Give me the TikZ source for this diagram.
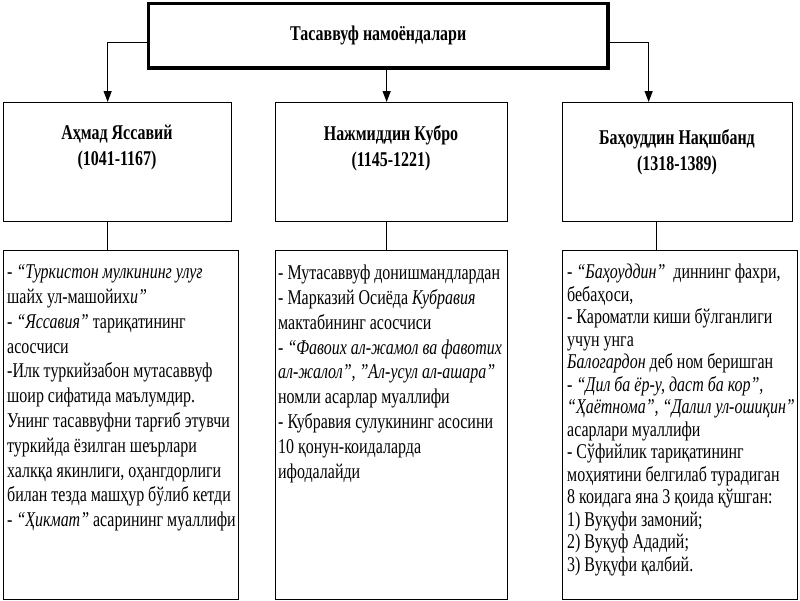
\documentclass[tikz,border=0pt]{standalone}
\usepackage{fontspec}
\setmainfont{Liberation Serif}[FakeStretch=0.76]
\usetikzlibrary{arrows.meta}
\begin{document}
\begin{tikzpicture}[x=1pt,y=-1pt,
  topbox/.style={draw, line width=3.5pt, minimum width=459.5pt, minimum height=64.5pt, anchor=north west, inner sep=0,
    font=\fontsize{21}{24}\selectfont\bfseries},
  midbox/.style={draw, line width=1.3pt, anchor=north west, inner sep=0},
  ttl/.style={font=\fontsize{21}{26}\selectfont\bfseries, align=center, inner sep=0},
  body/.style={font=\fontsize{21}{24.8}\selectfont, align=left, anchor=north west, inner sep=0},
  bodyr/.style={body, font=\fontsize{21}{22.5}\selectfont},
  conn/.style={line width=1.2pt},
  arr/.style={conn, -{Triangle[width=8pt,length=11pt]}}
]
\useasboundingbox (0,0) rectangle (800,600);
% top box
\node[topbox] (top) at (146.75,1.75) {Тасаввуф намоёндалари};
% level-2 boxes
\node[midbox, minimum width=228pt, minimum height=119pt] (m1) at (3,102) {};
\node[midbox, minimum width=232pt, minimum height=119pt] (m2) at (275,102) {};
\node[midbox, minimum width=230pt, minimum height=119pt] (m3) at (562,102) {};
\node[ttl] (t1) at (117,148) {Аҳмад Яссавий\\(1041-1167)};
\node[ttl] (t2) at (391,148) {Нажмиддин Кубро\\(1145-1221)};
\node[ttl] (t3) at (677,152) {Баҳоуддин Нақшбанд\\(1318-1389)};
% lower boxes
\node[midbox, minimum width=235pt, minimum height=349pt] (l1) at (3,250) {};
\node[midbox, minimum width=232pt, minimum height=349pt] (l2) at (275,250) {};
\node[midbox, minimum width=235pt, minimum height=349pt] (l3) at (562,250) {};
% connectors
\draw[arr] ([yshift=-7pt]top.west) -| ([xshift=-10pt]m1.north);
\draw[arr] ([yshift=-7pt]top.east) -| ([xshift=-29pt]m3.north);
\draw[arr] ([xshift=-5pt]m2.north |- top.south) -- ([xshift=-5pt]m2.north);
\draw[conn] ([xshift=-10pt]m1.south) -- ([xshift=-10pt]m1.south |- l1.north);
\draw[conn] ([xshift=-5pt]m2.south) -- ([xshift=-5pt]m2.south |- l2.north);
\draw[conn] ([xshift=-21pt]m3.south) -- ([xshift=-21pt]m3.south |- l3.north);
% texts
\node[body] (b1) at (7,264.5) {- \textit{“Туркистон мулкининг улуғ}\\
шайх ул-машойих\textit{и”}\\
- \textit{“Яссавия”} тариқатининг\\
асосчиси\\
-Илк туркийзабон мутасаввуф\\
шоир сифатида маълумдир.\\
Унинг тасаввуфни тарғиб этувчи\\
туркийда ёзилган шеърлари\\
халкқа якинлиги, оҳангдорлиги\\
билан тезда машҳур бўлиб кетди\\
- \textit{“Ҳикмат”} асарининг муаллифи};
\node[body] (b2) at (278,265) {- Мутасаввуф донишмандлардан\\
- Марказий Осиёда \textit{Кубравия}\\
мактабининг асосчиси\\
- \textit{“Фавоих ал-жамол ва фавотих}\\
\textit{ал-жалол”, "Ал-усул ал-ашара”}\\
номли асарлар муаллифи\\
- Кубравия сулукининг асосини\\
10 қонун-коидаларда\\
ифодалайди};
\node[bodyr] (b3) at (567,264) {- \textit{“Баҳоуддин”}\ \ диннинг фахри,\\
бебаҳоси,\\
- Кароматли киши бўлганлиги\\
учун унга\\
\textit{Балогардон} деб ном беришган\\
- \textit{“Дил ба ёр-у, даст ба кор”,}\\
\textit{“Ҳаётнома”, “Далил ул-ошиқин”}\\
асарлари муаллифи\\
- Сўфийлик тариқатининг\\
моҳиятини белгилаб турадиган\\
8 коидага яна 3 қоида қўшган:\\
1) Вуқуфи замоний;\\
2) Вуқуф Ададий;\\
3) Вуқуфи қалбий.};
\end{tikzpicture}
\end{document}
